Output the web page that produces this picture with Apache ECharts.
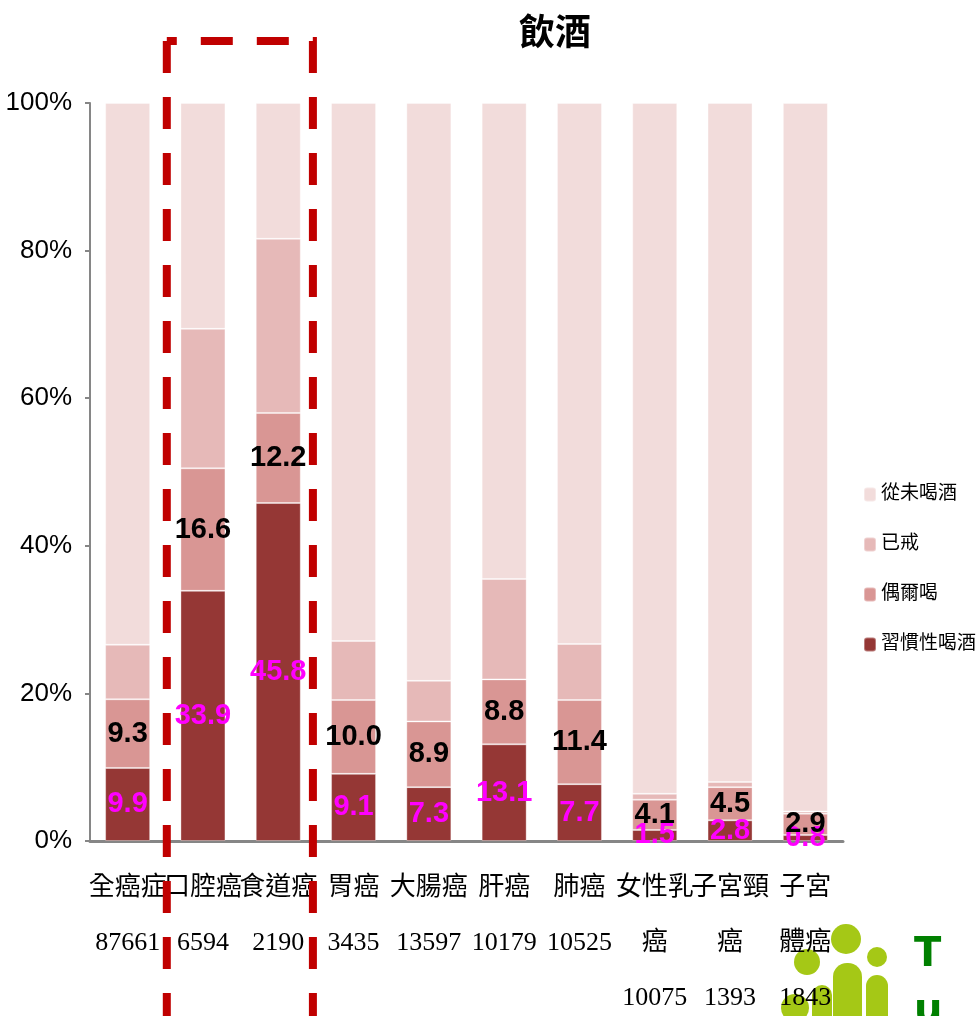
<!DOCTYPE html>
<html>
<head>
<meta charset="utf-8">
<script src="https://cdn.jsdelivr.net/npm/echarts@6/dist/echarts.min.js"></script>
<style>
  html, body { margin: 0; padding: 0; background: #fff; }
  #main { width: 976px; height: 1016px; }
</style>
</head>
<body>
<div id="main"></div>
<script>
// 類別（癌別 + 人數）
var categories = ['全癌症\n87661', '口腔癌\n6594', '食道癌\n2190', '胃癌\n3435', '大腸癌\n13597',
  '肝癌\n10179', '肺癌\n10525', '女性乳\n癌\n10075', '子宮頸\n癌\n1393', '子宮\n體癌\n1843'];
// 各飲酒狀態百分比
var habitual = [9.9, 33.9, 45.8, 9.1, 7.3, 13.1, 7.7, 1.5, 2.8, 0.8];   // 習慣性喝酒
var occasional = [9.3, 16.6, 12.2, 10.0, 8.9, 8.8, 11.4, 4.1, 4.5, 2.9]; // 偶爾喝
var quit = [7.4, 18.9, 23.6, 8.0, 5.5, 13.6, 7.6, 0.8, 0.7, 0.3];        // 已戒
var never = [73.4, 30.6, 18.4, 72.9, 78.3, 64.5, 73.3, 93.6, 92.0, 96.0]; // 從未喝酒
var yTicks = [0, 20, 40, 60, 80, 100];

var narrow = "'Liberation Sans Narrow', 'Arial Narrow', 'Liberation Sans', sans-serif";
var cjk = "'Liberation Serif', 'Noto Sans CJK TC', serif";

var chart = echarts.init(document.getElementById('main'));

function bar(name, data, color, labelColor) {
  var s = {
    name: name,
    type: 'bar',
    stack: 'all',
    barWidth: 45,
    data: data,
    itemStyle: { color: color, borderColor: 'rgba(255,255,255,0.35)', borderWidth: 1 },
    label: { show: false }
  };
  if (labelColor) {
    s.label = {
      show: true,
      position: 'inside',
      color: labelColor,
      fontFamily: narrow,
      fontWeight: 'bold',
      fontSize: 29,
      formatter: function (p) { return p.value.toFixed(1); }
    };
  }
  return s;
}

var option = {
  animation: false,
  title: {
    text: '飲酒',
    left: 550,
    top: 13,
    textAlign: 'center',
    textStyle: { fontFamily: cjk, fontSize: 36, fontWeight: 'bold', color: '#000' }
  },
  legend: {
    orient: 'vertical',
    left: 858,
    top: 480,
    itemGap: 31,
    itemWidth: 12,
    itemHeight: 14,
    data: ['從未喝酒', '已戒', '偶爾喝', '習慣性喝酒'],
    textStyle: { fontFamily: cjk, fontSize: 19, color: '#000' }
  },
  grid: { left: 90, right: 133, top: 103, bottom: 175, outerBoundsMode: 'none', containLabel: false },
  xAxis: {
    type: 'category',
    data: categories,
    axisLine: { lineStyle: { color: '#868686', width: 3 } },
    axisTick: { show: false },
    axisLabel: {
      interval: 0,
      margin: 20,
      fontFamily: cjk,
      fontSize: 26,
      lineHeight: 55,
      color: '#000'
    }
  },
  yAxis: {
    type: 'value',
    min: 0,
    max: 100,
    interval: 20,
    axisLine: { show: true, lineStyle: { color: '#868686', width: 2 } },
    axisTick: { show: true, length: 5, lineStyle: { color: '#868686', width: 2 } },
    splitLine: { show: false },
    axisLabel: {
      margin: 18,
      fontFamily: narrow,
      fontSize: 26,
      color: '#000',
      formatter: function (v) { return yTicks.indexOf(v) >= 0 ? v + '%' : ''; }
    }
  },
  series: [
    bar('習慣性喝酒', habitual, '#953735', '#ff00ff'),
    bar('偶爾喝', occasional, '#d99694', '#000'),
    bar('已戒', quit, '#e6b9b8'),
    bar('從未喝酒', never, '#f2dcdb')
  ]
};

chart.setOption(option);

// 紅色虛線框：口腔癌、食道癌
var c1 = chart.convertToPixel({ xAxisIndex: 0 }, 1);
var c2 = chart.convertToPixel({ xAxisIndex: 0 }, 2);
var bw = c2 - c1;
var L = c1 - bw / 2 + 1.5, R = c2 + bw / 2 - 3;
var boxTop = 41;
var dash = { stroke: '#c00000', lineWidth: 8, lineDash: [32, 24], fill: null };

var logo = '#a5c816';
chart.setOption({
  graphic: [
    // logo (右下角)，放在文字後面
    { type: 'circle', z: -5, shape: { cx: 807, cy: 962, r: 13 }, style: { fill: logo } },
    { type: 'circle', z: -5, shape: { cx: 795, cy: 1008, r: 14 }, style: { fill: logo } },
    { type: 'circle', z: -5, shape: { cx: 846, cy: 939, r: 15 }, style: { fill: logo } },
    { type: 'circle', z: -5, shape: { cx: 877, cy: 957, r: 10 }, style: { fill: logo } },
    { type: 'rect', z: -5, shape: { x: 833, y: 963, width: 29, height: 70, r: 14 }, style: { fill: logo } },
    { type: 'rect', z: -5, shape: { x: 866, y: 975, width: 22, height: 60, r: 11 }, style: { fill: logo } },
    { type: 'rect', z: -5, shape: { x: 812, y: 985, width: 20, height: 50, r: 10 }, style: { fill: logo } },
    { type: 'text', z: -5, x: 914, y: 936, style: { text: 'T', fill: '#008000', font: 'bold 40px "DejaVu Sans"' } },
    { type: 'text', z: -5, x: 914, y: 992, style: { text: 'u', fill: '#008000', font: 'bold 40px "DejaVu Sans"' } },
    {
      type: 'polyline',
      z: 100,
      shape: { points: [[L, boxTop], [L, 1040]] },
      style: dash
    },
    {
      type: 'polyline',
      z: 100,
      shape: { points: [[L, boxTop], [R, boxTop], [R, 1040]] },
      style: Object.assign({}, dash, { lineDashOffset: 22 })
    }
  ]
});
</script>
</body>
</html>
